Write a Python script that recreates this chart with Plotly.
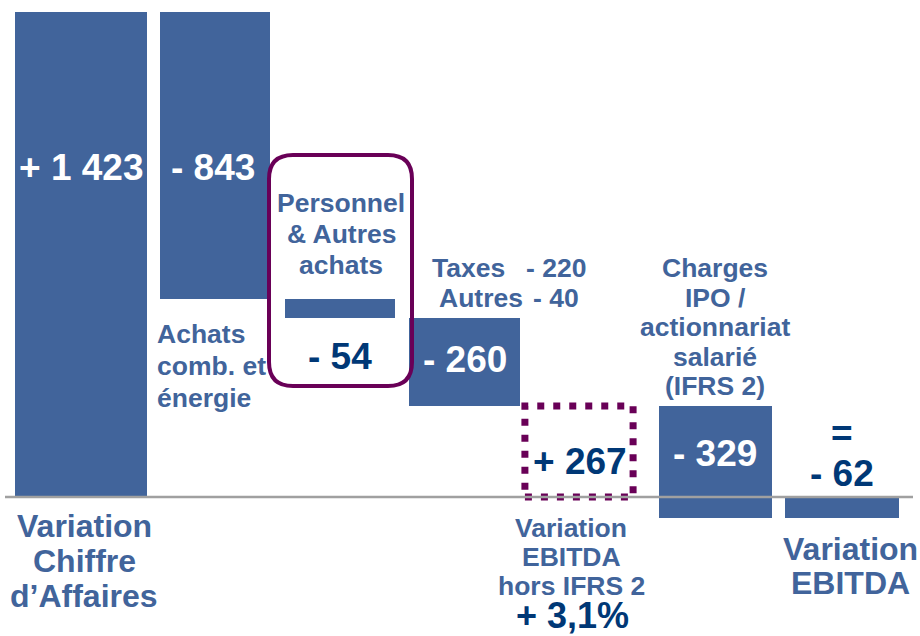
import plotly.graph_objects as go

# ---------------- data ----------------
categories = ["Variation Chiffre d'Affaires", "Achats comb. et énergie",
              "Personnel & Autres achats", "Taxes / Autres",
              "Variation EBITDA hors IFRS 2",
              "Charges IPO / actionnariat salarié (IFRS 2)", "Variation EBITDA"]
values = [1423, -843, -54, -260, 267, -329, -62]
measures = ["relative", "relative", "relative", "relative", "total", "relative", "total"]
detail_names = ["Taxes", "Autres"]
detail_values = [-220, -40]
growth_label = "+ 3,1%"

# ---------------- style ----------------
W, H = 920, 636
BLUE = "#41649B"
NAVY = "#003876"
PURPLE = "#690057"
GRID = "#A0A0A0"
FONT = "Arial, Liberation Sans, sans-serif"
SX = 125.8  # px per category slot


def fmt(v):
    s = f"{abs(v):,}".replace(",", " ")
    return ("+ " if v > 0 else "- ") + s


# waterfall bases
bases, running = [], 0
for v, m in zip(values, measures):
    if m == "total":
        bases.append(0)
        running = v
    else:
        bases.append(running)
        running += v

xs = list(range(len(values)))
widths = [1.05, 0.88, 0.88, 0.88, 0.86, 0.9, 0.9]
shift_px = [-4, 4, 3, 2, -9.5, 1, 2]          # small per-bar nudges (style)
offsets = [-w / 2 + s / SX for w, s in zip(widths, shift_px)]
fills = [BLUE, BLUE, BLUE, BLUE, "rgba(0,0,0,0)", BLUE, BLUE]

fig = go.Figure()
fig.add_trace(go.Bar(x=xs, y=values, base=bases, width=widths, offset=offsets,
                     marker=dict(color=fills, line=dict(width=0)),
                     hovertext=categories, showlegend=False))

# dotted outline for the EBITDA hors IFRS 2 total
i_tot = 4
fig.add_shape(type="rect", xref="x", yref="y",
              x0=i_tot + offsets[i_tot], x1=i_tot + offsets[i_tot] + widths[i_tot],
              y0=bases[i_tot], y1=bases[i_tot] + values[i_tot],
              line=dict(color=PURPLE, width=7, dash="7px,9px"))

# baseline
fig.add_shape(type="line", xref="paper", yref="y", x0=5 / W, x1=913 / W, y0=0, y1=0,
              line=dict(color=GRID, width=2.5), layer="above")


def px(x, y):
    return x / W, 1 - y / H


# rounded box around "Personnel & Autres achats"
bx0, bx1, by0, by1, r = 269, 412, 155, 386, 24
ax0, ay0 = px(bx0, by0)
ax1, ay1 = px(bx1, by1)
rx, ry = r / W, r / H
path = (f"M {ax0+rx},{ay0} L {ax1-rx},{ay0} Q {ax1},{ay0} {ax1},{ay0-ry} "
        f"L {ax1},{ay1+ry} Q {ax1},{ay1} {ax1-rx},{ay1} "
        f"L {ax0+rx},{ay1} Q {ax0},{ay1} {ax0},{ay1+ry} "
        f"L {ax0},{ay0-ry} Q {ax0},{ay0} {ax0+rx},{ay0} Z")
fig.add_shape(type="path", xref="paper", yref="paper", path=path,
              line=dict(color=PURPLE, width=4))


def text(t, x, y, size, color, xanchor="center"):
    ax, ay = px(x, y)
    fig.add_annotation(text=t, x=ax, y=ay, xref="paper", yref="paper",
                       showarrow=False, xanchor=xanchor, yanchor="middle",
                       font=dict(family=FONT, size=size, color=color, weight="bold"))


BIG = 37
LBL = 26.5
HEAD = 32
# value labels
text(fmt(values[0]), 81, 168, BIG, "white")
text(fmt(values[1]), 213, 168, BIG, "white")
text(fmt(values[2]), 340, 356, BIG, NAVY)
text(fmt(values[3]), 465, 359, BIG, "white")
text(fmt(values[4]), 580, 461, BIG, NAVY)
text(fmt(values[5]), 715, 453, BIG, "white")
text("=", 842, 433, BIG, NAVY)
text(fmt(values[6]), 842, 473, BIG, NAVY)
text(growth_label, 572, 615, 36, NAVY)

# category labels
for i, line in enumerate(["Variation", "Chiffre", "d’Affaires"]):
    text(line, 84, 526 + 35 * i, HEAD, BLUE)
for i, line in enumerate(["Achats", "comb. et", "énergie"]):
    text(line, 155, 334 + 32 * i, LBL, BLUE, xanchor="left")
for i, line in enumerate(["Personnel", "& Autres", "achats"]):
    text(line, 341, 203 + 31 * i, LBL, BLUE)
for i, (n, v) in enumerate(zip(detail_names, detail_values)):
    text(n, [430, 437][i], 268 + 30 * i, LBL, BLUE, xanchor="left")
    text(fmt(v), [588, 581][i], 268 + 30 * i, LBL, BLUE, xanchor="right")
for i, line in enumerate(["Charges", "IPO /", "actionnariat", "salarié", "(IFRS 2)"]):
    text(line, 715, 268 + 29.5 * i, LBL, BLUE)
for i, line in enumerate(["Variation", "EBITDA", "hors IFRS 2"]):
    text(line, 571, 528 + 29 * i, LBL, BLUE)
for i, line in enumerate(["Variation", "EBITDA"]):
    text(line, 850, 549 + 34 * i, HEAD, BLUE)

# axes: index 0 centred at x=85.3px; 0 at y=497px, 0.3408 px/unit
x0px = 85.3
rmin = -x0px / SX
sy, y0px = 0.3408, 497
ymin = -(H - y0px) / sy
fig.update_layout(
    width=W, height=H, margin=dict(l=0, r=0, t=0, b=0),
    paper_bgcolor="white", plot_bgcolor="white",
    bargap=0, showlegend=False,
    xaxis=dict(range=[rmin, rmin + W / SX], visible=False, fixedrange=True),
    yaxis=dict(range=[ymin, ymin + H / sy], visible=False, fixedrange=True),
)

fig.write_html("out.html", config={"displayModeBar": False},
               post_script="document.body.style.margin='0px';")
